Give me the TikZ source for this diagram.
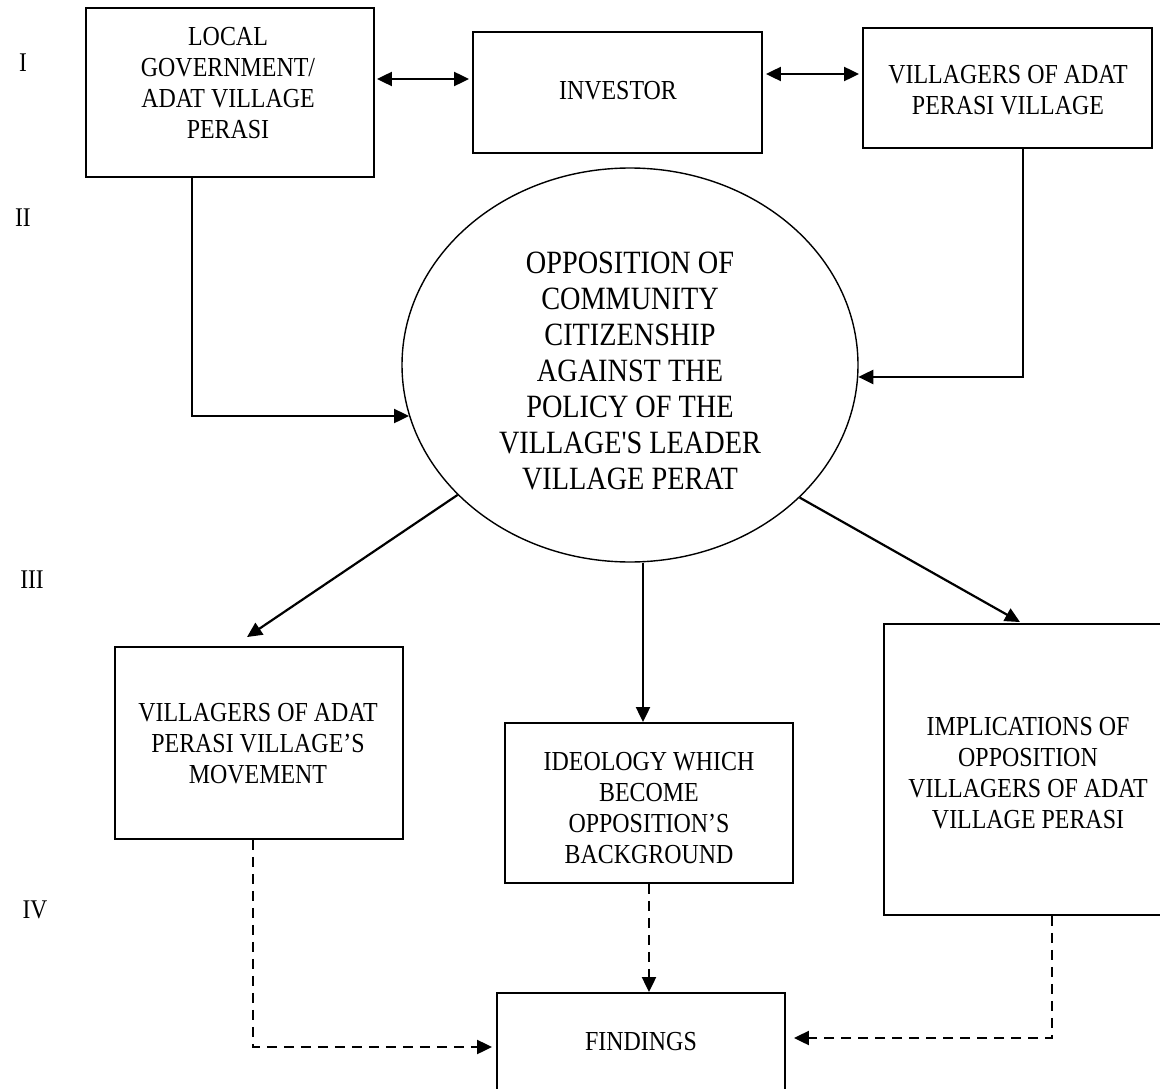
\documentclass[tikz,border=0pt]{standalone}
\usepackage{fontspec}
\setmainfont[FakeStretch=0.87,Ligatures=TeXOff]{Liberation Serif}
\usetikzlibrary{arrows.meta,shapes.geometric}
\begin{document}
\begin{tikzpicture}[x=1pt,y=-1pt,
  box/.style={draw,line width=1.9pt,inner sep=0pt},
  txt/.style={align=center,font=\fontsize{27.5}{31}\selectfont,inner sep=0pt},
  big/.style={align=center,font=\fontsize{32.5}{36}\selectfont,inner sep=0pt},
  num/.style={font=\fontsize{27}{31}\selectfont,inner sep=0pt},
  conn/.style={line width=2.2pt,-{Triangle[length=15pt,width=14pt]}},
  dbl/.style={line width=2.2pt,{Triangle[length=15pt,width=14pt]}-{Triangle[length=15pt,width=14pt]}},
  dconn/.style={conn,dash pattern=on 10pt off 7pt}]
\useasboundingbox (0,0) rectangle (1160,1089);
\clip (0,0) rectangle (1160,1089);
\fill[white] (0,0) rectangle (1160,1089);

% row numbers
\node[num] (n1) at (23,63) {I};
\node[num] (n2) at (23,218) {II};
\node[num] (n3) at (32,580) {III};
\node[num] (n4) at (35,910) {IV};

% boxes
\node[box,minimum width=288pt,minimum height=169pt] (lg) at (230,92.5) {};
\node[txt] (lgt) at (228,83) {LOCAL\\GOVERNMENT/\\ADAT VILLAGE\\PERASI};
\node[box,minimum width=289pt,minimum height=121pt] (inv) at (617.5,92.5) {};
\node[txt] (invt) at (618,91) {INVESTOR};
\node[box,minimum width=289pt,minimum height=120pt] (vil) at (1007.5,88) {};
\node[txt] (vilt) at (1008,90) {VILLAGERS OF ADAT\\PERASI VILLAGE};

\node[ellipse,draw,line width=1.4pt,minimum width=456pt,minimum height=394pt,inner sep=0pt] (ell) at (630,365) {};
\node[big] (ellt) at (630,370.5) {OPPOSITION OF\\COMMUNITY\\CITIZENSHIP\\AGAINST THE\\POLICY OF THE\\VILLAGE'S LEADER\\VILLAGE PERAT};

\node[box,minimum width=288pt,minimum height=192pt] (lb) at (259,743) {};
\node[txt] (lbt) at (258,743.5) {VILLAGERS OF ADAT\\PERASI VILLAGE’S\\MOVEMENT};
\node[box,minimum width=288pt,minimum height=160pt] (mb) at (649,803) {};
\node[txt] (mbt) at (649,808.5) {IDEOLOGY WHICH\\BECOME\\OPPOSITION’S\\BACKGROUND};
\node[box,minimum width=288pt,minimum height=291pt] (rb) at (1028,769.5) {};
\node[txt] (rbt) at (1028,773.5) {IMPLICATIONS OF\\OPPOSITION\\VILLAGERS OF ADAT\\VILLAGE PERASI};
\node[box,minimum width=288pt,minimum height=102pt] (fd) at (641,1044) {};
\node[txt] (fdt) at (641,1042) {FINDINGS};

% helper coordinates
\coordinate (y79) at (0,79);
\coordinate (y74) at (0,74);

% connectors
\draw[dbl,shorten <=2pt,shorten >=3pt] (lg.east |- y79) -- (inv.west |- y79);
\draw[dbl,shorten <=3pt,shorten >=3pt] (inv.east |- y74) -- (vil.west |- y74);
\draw[conn] ([xshift=-38.4pt]lg.south) |- (ell.193);
\draw[conn] ([xshift=15.5pt]vil.south) |- (ell.-3);
\draw[conn] (ell.217) -- ([xshift=-12pt,yshift=9pt]lb.north);
\draw[conn] ([xshift=-6pt]mb.north |- ell.south) -- ([xshift=-6pt]mb.north);
\draw[conn] (ell.-38) -- ([xshift=-8pt,yshift=1pt]rb.north);

\draw[dconn,shorten >=4pt] ([xshift=-6pt]lb.south) |- ([yshift=-3pt]fd.west);
\draw[dconn] (mb.south) -- (mb.south |- fd.north);
\draw[dconn,shorten >=8pt] ([xshift=24pt]rb.south) |- ([yshift=6pt]fd.east);
\end{tikzpicture}
\end{document}
